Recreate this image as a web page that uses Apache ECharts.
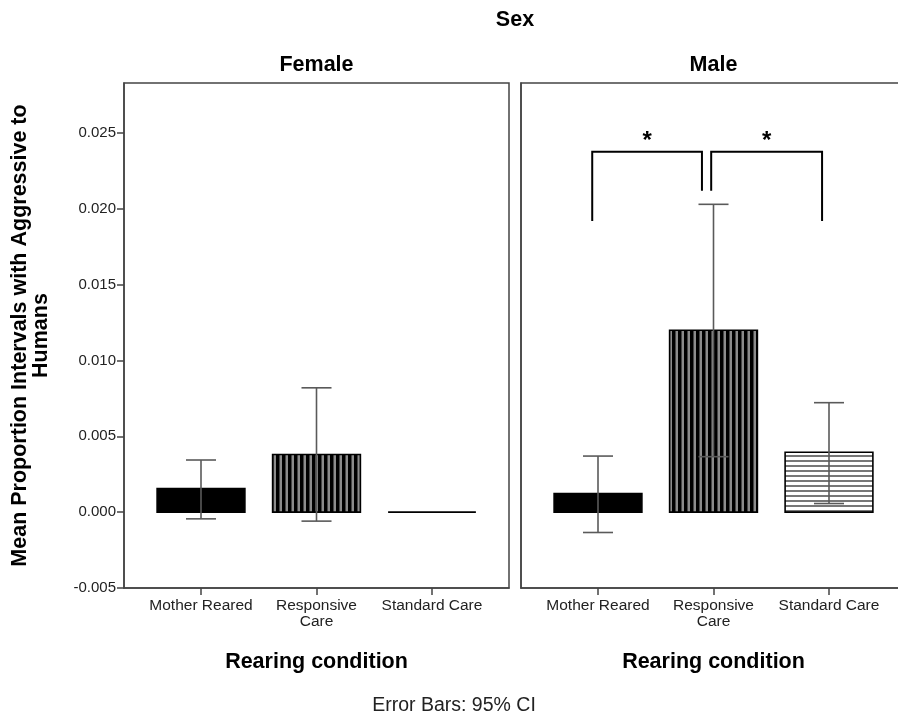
<!DOCTYPE html>
<html>
<head>
<meta charset="utf-8">
<script src="https://cdn.jsdelivr.net/npm/echarts@6/dist/echarts.min.js"></script>
<style>
  html, body { margin: 0; padding: 0; background: #fff; overflow: hidden; }
  #chart { width: 912px; height: 719px; }
</style>
</head>
<body>
<div id="chart"></div>
<script>
// Rearing condition categories (x positions 1..3 on each panel)
const categories = ['Mother Reared', 'Responsive\nCare', 'Standard Care'];
const catPos = [1, 2, 3];
const panelTitles = ['Female', 'Male'];

// Mean proportion and 95% CI bounds, female panel
const femaleMean  = [0.00156, 0.0038, 0.0];
const femaleLower = [-0.00044, -0.00059, 0.0];
const femaleUpper = [0.00344, 0.0082, 0.0];

// Mean proportion and 95% CI bounds, male panel
const maleMean  = [0.00122, 0.0120, 0.00395];
const maleLower = [-0.00134, 0.00366, 0.00057];
const maleUpper = [0.0037, 0.0203, 0.00722];

// Significance brackets on the male panel (x in category units, y in data units)
const bracketX0 = [0.95, 1.98];
const bracketX1 = [1.90, 2.94];
const bracketTop = [0.02377, 0.02377];
const bracketLegLeft = [0.0192, 0.0212];
const bracketLegRight = [0.0212, 0.0192];
const bracketMark = ['*', '*'];

// Y axis range
const yMin = -0.005, yMax = 0.0283, yStep = 0.005;

const FONT = "'Liberation Sans', Arial, sans-serif";

// Fill patterns: solid, vertical stripes, horizontal stripes
function vStripes() {
  const c = document.createElement('canvas');
  c.width = 6; c.height = 4;
  const g = c.getContext('2d');
  g.fillStyle = '#8c8c8c'; g.fillRect(0, 0, 6, 4);
  g.fillStyle = '#000'; g.fillRect(0, 0, 3.5, 4);
  return c;
}
function hStripes() {
  const c = document.createElement('canvas');
  c.width = 4; c.height = 5;
  const g = c.getContext('2d');
  g.fillStyle = '#fff'; g.fillRect(0, 0, 4, 5);
  g.fillStyle = '#777'; g.fillRect(0, 0, 4, 2);
  return c;
}
const fills = ['#000', { image: vStripes(), repeat: 'repeat' }, { image: hStripes(), repeat: 'repeat' }];

const BAR_W = 0.76;   // bar width in category units
const CAP_W = 0.26;   // error-bar cap width in category units

function rows(mean, lo, hi) {
  return catPos.map((x, i) => [x, mean[i], lo[i], hi[i], i]);
}

function renderBar(params, api) {
  const x = api.value(0), m = api.value(1), lo = api.value(2), hi = api.value(3), k = api.value(4);
  const base = api.coord([x, 0]);
  const top = api.coord([x, m]);
  const w = api.size([BAR_W, 0])[0];
  const cw = api.size([CAP_W, 0])[0];
  const children = [{
    type: 'rect',
    shape: { x: base[0] - w / 2, y: Math.min(base[1], top[1]), width: w, height: Math.abs(base[1] - top[1]) },
    style: { fill: fills[k], stroke: '#000', lineWidth: 1.6 }
  }];
  if (hi !== lo) {
    const pHi = api.coord([x, hi]);
    const pLo = api.coord([x, lo]);
    const st = { stroke: '#5a5a5a', lineWidth: 1.6 };
    children.push(
      { type: 'line', shape: { x1: pHi[0], y1: pHi[1], x2: pLo[0], y2: pLo[1] }, style: st },
      { type: 'line', shape: { x1: pHi[0] - cw / 2, y1: pHi[1], x2: pHi[0] + cw / 2, y2: pHi[1] }, style: st },
      { type: 'line', shape: { x1: pLo[0] - cw / 2, y1: pLo[1], x2: pLo[0] + cw / 2, y2: pLo[1] }, style: st }
    );
  }
  return { type: 'group', children };
}

function renderBracket(params, api) {
  const i = params.dataIndex;
  const a = api.coord([bracketX0[i], bracketLegLeft[i]]);
  const b = api.coord([bracketX0[i], bracketTop[i]]);
  const c = api.coord([bracketX1[i], bracketTop[i]]);
  const d = api.coord([bracketX1[i], bracketLegRight[i]]);
  return {
    type: 'group',
    children: [
      { type: 'polyline', shape: { points: [a, b, c, d] }, style: { stroke: '#000', lineWidth: 2, fill: null } },
      { type: 'text', x: (b[0] + c[0]) / 2, y: b[1] + 2,
        style: { text: bracketMark[i], font: 'bold 24px ' + FONT, fill: '#000', align: 'center', verticalAlign: 'bottom' } }
    ]
  };
}

const gridTop = 83, gridH = 505, gridW = 385;
const grids = [
  { left: 124, top: gridTop, width: gridW, height: gridH },
  { left: 521, top: gridTop, width: gridW, height: gridH }
].map(g => Object.assign(g, { show: true, borderColor: '#444', borderWidth: 1.5, backgroundColor: 'transparent' }));

const xAxes = [0, 1].map(gi => ({
  type: 'value', gridIndex: gi, min: 1 / 3, max: 11 / 3,
  name: 'Rearing condition', nameLocation: 'middle', nameGap: 63,
  nameTextStyle: { fontFamily: FONT, fontWeight: 'bold', fontSize: 21.5, color: '#000' },
  splitLine: { show: false },
  axisLine: { show: true, onZero: false, lineStyle: { color: '#444', width: 1.5 } },
  axisTick: { show: true, customValues: catPos, length: 7, lineStyle: { color: '#444', width: 1.5 } },
  axisLabel: {
    customValues: catPos, margin: 10, fontFamily: FONT, fontSize: 15.5, color: '#222', lineHeight: 16,
    formatter: v => categories[Math.round(v) - 1] || ''
  }
}));

const yAxes = [0, 1].map(gi => ({
  type: 'value', gridIndex: gi, min: yMin, max: yMax, interval: yStep,
  name: gi === 0 ? 'Mean Proportion Intervals with Aggressive to\nHumans' : '',
  nameLocation: 'middle', nameRotate: 90, nameGap: 72,
  nameTextStyle: { fontFamily: FONT, fontWeight: 'bold', fontSize: 21.5, color: '#000', lineHeight: 21 },
  splitLine: { show: false },
  axisLine: { show: true, lineStyle: { color: '#444', width: 1.5 } },
  axisTick: { show: gi === 0, length: 7, lineStyle: { color: '#444', width: 1.5 } },
  axisLabel: {
    show: gi === 0, showMaxLabel: false, margin: 8, fontFamily: FONT, fontSize: 15, color: '#222',
    formatter: v => v.toFixed(3)
  }
}));

const chart = echarts.init(document.getElementById('chart'), null, { renderer: 'canvas' });
chart.setOption({
  animation: false,
  backgroundColor: '#fff',
  grid: grids,
  xAxis: xAxes,
  yAxis: yAxes,
  graphic: [
    { type: 'text', x: 515, y: 20, style: { text: 'Sex', font: 'bold 21.5px ' + FONT, fill: '#000', align: 'center', verticalAlign: 'middle' } },
    { type: 'text', x: 124 + gridW / 2, y: 65, style: { text: panelTitles[0], font: 'bold 21.5px ' + FONT, fill: '#000', align: 'center', verticalAlign: 'middle' } },
    { type: 'text', x: 521 + gridW / 2, y: 65, style: { text: panelTitles[1], font: 'bold 21.5px ' + FONT, fill: '#000', align: 'center', verticalAlign: 'middle' } },
    { type: 'text', x: 454, y: 706, style: { text: 'Error Bars: 95% CI', font: '19.5px ' + FONT, fill: '#222', align: 'center', verticalAlign: 'middle' } }
  ],
  series: [
    { type: 'custom', xAxisIndex: 0, yAxisIndex: 0, renderItem: renderBar, data: rows(femaleMean, femaleLower, femaleUpper), clip: false },
    { type: 'custom', xAxisIndex: 1, yAxisIndex: 1, renderItem: renderBar, data: rows(maleMean, maleLower, maleUpper), clip: false },
    { type: 'custom', xAxisIndex: 1, yAxisIndex: 1, renderItem: renderBracket, data: bracketX0.map((x, i) => [x, bracketTop[i]]), clip: false }
  ]
});
</script>
</body>
</html>
